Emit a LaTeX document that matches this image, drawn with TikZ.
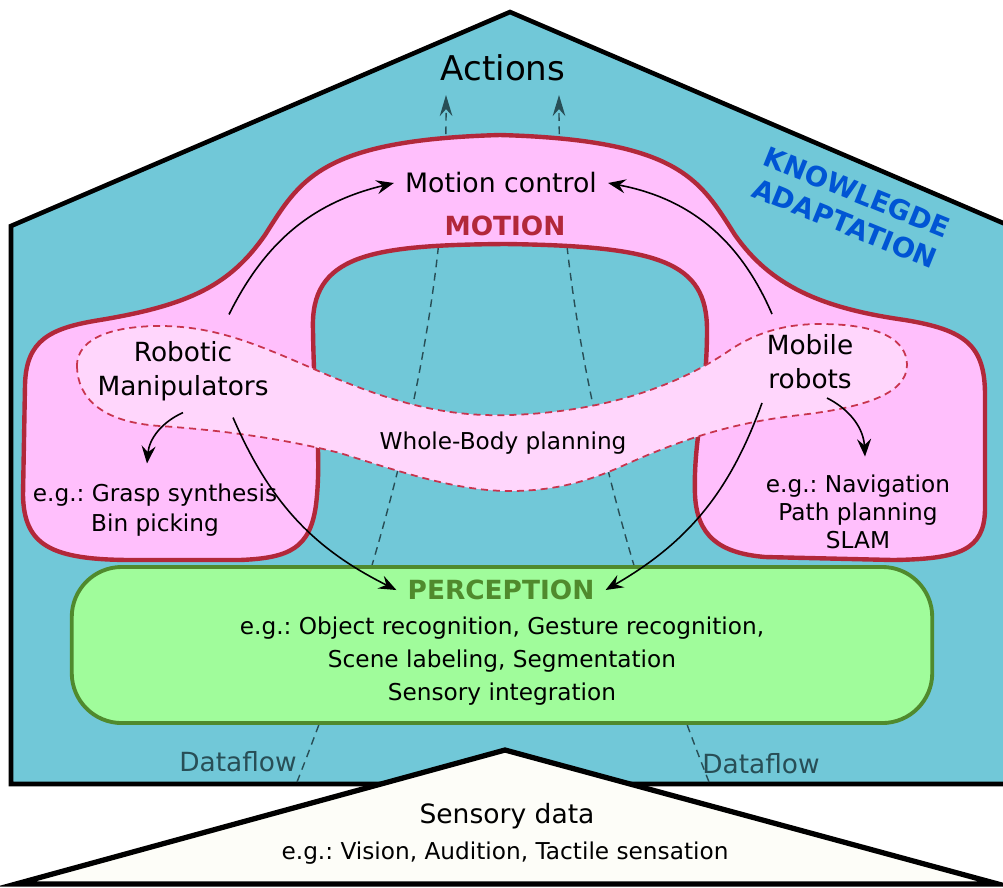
\documentclass[tikz,border=0pt]{standalone}
\usepackage{fontspec}
\setmainfont{DejaVu Sans}
\usetikzlibrary{arrows.meta,calc}
\frenchspacing

\definecolor{fundo}{RGB}{113,200,216}
\definecolor{rosa}{RGB}{255,191,252}
\definecolor{rosaclaro}{RGB}{255,214,252}
\definecolor{vermelho}{RGB}{178,40,58}
\definecolor{tracejado}{RGB}{200,52,78}
\definecolor{verde}{RGB}{160,252,155}
\definecolor{verdeescuro}{RGB}{80,138,45}
\definecolor{azulforte}{RGB}{0,85,212}
\definecolor{fluxocor}{RGB}{40,78,86}
\definecolor{creme}{RGB}{253,253,248}

\begin{document}
\begin{tikzpicture}[
    x=0.01cm, y=-0.01cm,
    texto/.style={align=center, inner sep=0pt,
        font=\fontsize{6.6}{8.3}\selectfont},
    grande/.style={align=center, inner sep=0pt,
        font=\fontsize{7.5}{9.7}\selectfont},
    titulo/.style={inner sep=3pt, font=\bfseries\fontsize{7.5}{9}\selectfont},
    seta/.style={-{Stealth[length=5pt,width=4pt,inset=1.8pt]}, line width=0.45pt},
    fluxo/.style={fluxocor, line width=0.4pt, dash pattern=on 2.2pt off 1.6pt,
        -{Stealth[length=6pt,width=3.6pt,inset=2pt]}},
    caixaverde/.style={draw=verdeescuro, fill=verde, line width=1.1pt,
        rounded corners=0.5cm, minimum width=8.6cm, minimum height=1.56cm}
    ]
    
    \useasboundingbox (0,0) rectangle (1003,887);
    
    \draw[fill=fundo, line width=1.3pt] (11,226) -- (510,12) -- (1010,226)
        -- (1010,784) -- (11,784) -- cycle;
    
    \coordinate (fb1) at (297,782);
    \coordinate (ft1) at (446,95);
    \coordinate (fb2) at (709,782);
    \coordinate (ft2) at (559,95);
    
    \draw[fluxo] (fb1) .. controls (345,660) and (447,380) .. (ft1);
    \draw[fluxo] (fb2) .. controls (661,660) and (559,380) .. (ft2);
    
    \draw[draw=vermelho, fill=rosa, line width=1.25pt]
        (133,560) .. controls (50,560) and (24,545) .. (23,495)
        -- (25,385) .. controls (26,340) and (50,328) .. (100,320)
        .. controls (190,305) and (230,285) .. (265,235)
        .. controls (300,180) and (320,140) .. (500,135)
        .. controls (680,140) and (700,180) .. (735,235)
        .. controls (770,285) and (820,308) .. (905,320)
        .. controls (965,330) and (985,345) .. (985,395)
        -- (985,510) .. controls (984,550) and (960,559) .. (893,560)
        -- (765,557) .. controls (718,553) and (697,535) .. (695,495)
        .. controls (693,440) and (707,400) .. (707,330)
        .. controls (707,262) and (660,246) .. (505,244)
        .. controls (370,245) and (310,255) .. (313,330)
        .. controls (314,410) and (322,455) .. (316,505)
        .. controls (310,548) and (290,558) .. (240,560)
        -- cycle;
    
    \draw[draw=tracejado, fill=rosaclaro, line width=0.5pt,
        dash pattern=on 2pt off 1.4pt]
        (77,367) .. controls (76,335) and (120,326) .. (160,326)
        .. controls (220,326) and (265,348) .. (330,376)
        .. controls (400,405) and (450,417) .. (510,415)
        .. controls (600,412) and (675,388) .. (730,350)
        .. controls (760,330) and (790,324) .. (820,324)
        .. controls (880,324) and (907,340) .. (907,365)
        .. controls (907,395) and (860,408) .. (800,415)
        .. controls (730,423) and (680,440) .. (620,467)
        .. controls (580,485) and (545,491) .. (510,491)
        .. controls (460,491) and (410,475) .. (340,453)
        .. controls (280,438) and (220,430) .. (160,426)
        .. controls (100,422) and (78,397) .. (77,367) -- cycle;
    
    \node[caixaverde] (perc) at (502,645) {};
    
    \node[inner sep=0pt, font=\fontsize{9.7}{11}\selectfont] (acoes) at (503,68)
    {Actions};
    
    \node[inner sep=3pt, font=\fontsize{7.6}{9}\selectfont] (mc) at (501,183)
    {Motion control};
    
    \node[titulo, text=vermelho] (mov) at (505,226)
    {MOTION};
    
    \node[grande] (robo) at (183,371)
    {Robotic\\Manipulators};
    
    \node[grande] (movel) at (810,362)
    {Mobile\\robots};
    
    \node[texto] (grasp) at (155,510)
    {e.g.: Grasp synthesis\\Bin picking};
    
    \node[texto, font=\fontsize{6.6}{7.9}\selectfont] (nav) at (858,512)
    {e.g.: Navigation\\Path planning\\SLAM};
    
    \node[texto] (corpo) at (503,443)
    {Whole-Body planning};
    
    \node[titulo, text=verdeescuro] (perctit) at (501,590)
    {PERCEPTION};
    
    \node[texto, font=\fontsize{6.6}{9.4}\selectfont] (percex) at (502,661)
    {e.g.: Object recognition, Gesture recognition,\\Scene labeling, Segmentation\\Sensory integration};
    
    \node[titulo, text=azulforte, rotate=-22, align=center, inner sep=0pt,
        font=\bfseries\fontsize{7.8}{9.5}\selectfont] (conhec) at (851,208)
    {KNOWLEGDE\\ADAPTATION};
    
    \node[grande, text=fluxocor] (df1) at (238,762) {Dataflow};
    \node[grande, text=fluxocor] (df2) at (761,764) {Dataflow};
    
    \draw[seta] ($(robo.north)+(46,-26)$) to[bend left=25] (mc.west);
    \draw[seta] ($(movel.north)+(-38,-20)$) to[bend right=28] (mc.east);
    \draw[seta] ($(robo.south)+(0,11)$) to[bend right=30] ($(grasp.north)+(-8,-20)$);
    \draw[seta] ($(robo.south)+(50,16)$) to[bend right=20] (perctit.west);
    \draw[seta] ($(movel.south)+(-48,13)$) to[bend left=20] (perctit.east);
    \draw[seta] ($(movel.south)+(17,8)$) to[bend left=30] ($(nav.north)+(7,-18)$);
    
    \draw[fill=creme, line width=1.5pt] (505,750) -- (998,884) -- (16,884) -- cycle;
    
    \node[inner sep=0pt, font=\fontsize{7.55}{9}\selectfont] (sensor) at (507,816)
    {Sensory data};
    \node[texto] (sensorex) at (505,853)
    {e.g.: Vision, Audition, Tactile sensation};
    
    \end{tikzpicture}
\end{document}
